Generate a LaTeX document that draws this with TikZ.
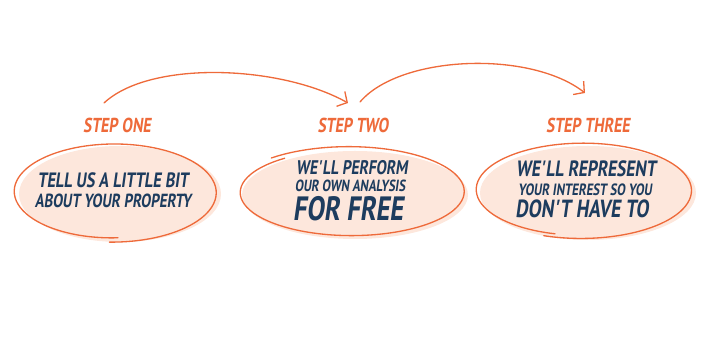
\documentclass[tikz,border=0pt]{standalone}
\usepackage{fontspec}
\setmainfont{PT Sans}[FakeSlant=0.14,FakeStretch=0.78]
\usetikzlibrary{arrows.meta}
\definecolor{stepor}{HTML}{EE6A3A}
\definecolor{stepnavy}{HTML}{1D3C5E}
\definecolor{peach}{HTML}{FDE7DC}

\begin{document}
\begin{tikzpicture}[x=0.02cm,y=-0.02cm,line width=0.8pt,>={Straight Barb[length=1.5mm,width=3.4mm]},
  steplbl/.style={text=stepor,font=\bfseries\fontsize{11.5}{13}\selectfont,anchor=base},
  body/.style={text=stepnavy,anchor=base,inner sep=0pt},
  outl/.style={draw=stepor,line width=0.75pt,line cap=round},
  flow/.style={draw=stepor,line width=0.75pt,line cap=round,->}]
  \useasboundingbox (0,0) rectangle (701,350);
  % bubbles: fill, then the hand drawn outline
  \foreach \cx/\cy/\rx/\ry/\fx/\fy/\st/\k in {113/192/101/48/7/2/87/0.09,
      350/192/113/44/5/3/228/-0.08, 582/190/108/47/6/3/105/0.07}{
    \fill[peach] (\cx+\fx,\cy+\fy) ellipse[x radius=\rx,y radius=\ry];
    \draw[outl] plot[domain=\st:\st+365,samples=90,smooth]
      ({\cx+\rx*(1+\k*((\x-\st)/365-0.5))*cos(\x)},{\cy+\ry*(1+\k*((\x-\st)/365-0.5))*sin(\x)});
  }
  % step one
  \node[steplbl] (s1) at (117,133) {STEP ONE};
  \node[body,font=\bfseries\fontsize{11.8}{14}\selectfont] (t1a) at (113,188) {TELL US A LITTLE BIT};
  \node[body,font=\bfseries\fontsize{10.8}{12}\selectfont] (t1b) at (113,208) {ABOUT YOUR PROPERTY};
  % step two
  \node[steplbl] (s2) at (353,133) {STEP TWO};
  \node[body,font=\bfseries\fontsize{11.2}{13}\selectfont] (t2a) at (352,175) {WE\textquotesingle LL PERFORM};
  \node[body,font=\bfseries\fontsize{9.2}{11}\selectfont] (t2b) at (350,192) {OUR OWN ANALYSIS};
  \node[body,font=\bfseries\fontsize{19.2}{22}\selectfont] (t2c) at (348,221) {FOR FREE};
  % step three
  \node[steplbl] (s3) at (588,133) {STEP THREE};
  \node[body,font=\bfseries\fontsize{12.6}{14}\selectfont] (t3a) at (586,177) {WE\textquotesingle LL REPRESENT};
  \node[body,font=\bfseries\fontsize{9.3}{11}\selectfont] (t3b) at (585,196) {YOUR INTEREST SO YOU};
  \node[body,font=\bfseries\fontsize{14.1}{16}\selectfont] (t3c) at (582,218) {DON\textquotesingle T HAVE TO};
  % arrows between the steps
  \coordinate (a1) at (104,103);
  \coordinate (a2) at (348,103);
  \coordinate (a3) at (360,102);
  \coordinate (a4) at (585,93);
  \draw[flow] (a1) .. controls (150,60) and (280,65) .. (a2);
  \draw[flow] (a3) .. controls (400,55) and (530,50) .. (a4);
\end{tikzpicture}
\end{document}
